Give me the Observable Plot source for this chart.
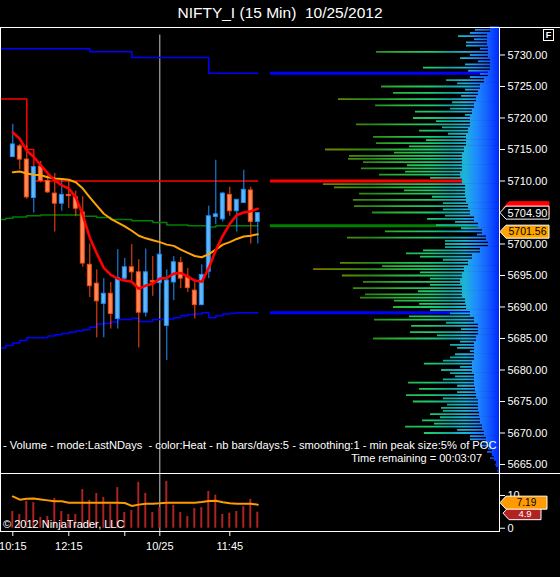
<!DOCTYPE html>
<html><head><meta charset="utf-8">
<script src="https://cdn.jsdelivr.net/npm/d3@7"></script>
<script src="https://cdn.jsdelivr.net/npm/@observablehq/plot@0.6"></script>
<style>
html,body{margin:0;padding:0;background:#000;}
#root{position:relative;width:560px;height:577px;background:#000;overflow:hidden;font-family:"Liberation Sans",Arial,sans-serif;color:#fff;}
.abs{position:absolute;white-space:nowrap;}
.hl{position:absolute;height:1px;background:#fff;}
.vl{position:absolute;width:1px;background:#fff;}
</style></head><body><div id="root"></div>
<script>
// ---------- data ----------
const xTickIdx = [0, 8, 16, 21, 31];
const xTickLabels = ["10:15", "12:15", "", "10/25", "11:45"];
const priceTicks = [5665, 5670, 5675, 5680, 5685, 5690, 5695, 5700, 5705, 5710, 5715, 5720, 5725, 5730];
const volTicks = [0, 10];
const sessionStart = 21;

const open  = [5713.8,5715.5,5713.4,5707.3,5712.3,5710.0,5708.0,5706.4,5707.8,5707.4,5705.0,5696.7,5693.7,5690.5,5692.1,5688.1,5694.5,5696.3,5695.5,5689.1,5694.1,5693.8,5687.0,5693.9,5697.0,5694.8,5692.6,5690.3,5695.6,5704.3,5703.9,5707.8,5705.2,5706.5,5708.5,5703.5];
const high  = [5719.0,5715.8,5715.6,5712.3,5713.1,5710.9,5711.2,5710.1,5709.9,5708.4,5707.5,5700.0,5695.9,5694.5,5693.9,5699.1,5697.7,5699.9,5697.5,5699.2,5698.0,5699.0,5695.9,5698.0,5697.9,5696.1,5694.0,5696.7,5706.0,5713.3,5708.2,5709.0,5707.1,5711.7,5709.0,5705.0];
const low   = [5713.7,5711.8,5707.1,5704.9,5709.7,5708.0,5701.9,5705.2,5705.6,5704.3,5696.3,5691.5,5685.1,5685.1,5686.5,5686.5,5693.9,5694.1,5683.5,5688.4,5691.7,5691.0,5681.5,5691.0,5692.9,5692.3,5688.1,5690.2,5694.5,5703.1,5703.5,5704.4,5701.9,5706.5,5700.0,5700.0];
const close = [5715.8,5713.4,5707.4,5712.2,5710.0,5708.2,5706.4,5707.8,5707.6,5705.6,5696.9,5693.3,5690.9,5692.1,5688.9,5694.6,5696.3,5695.5,5689.1,5695.5,5693.9,5698.3,5694.2,5697.1,5694.5,5693.0,5690.3,5695.1,5704.4,5704.7,5708.0,5705.2,5707.0,5708.6,5703.5,5704.9];

const fastMA = [5717.7,5716.7,5714.8,5713.8,5712.5,5711.2,5710.1,5709.3,5708.8,5707.4,5704.6,5701.0,5698.5,5696.2,5695.1,5694.5,5694.2,5694.0,5692.9,5693.4,5693.7,5694.5,5694.6,5695.3,5695.4,5694.8,5694.2,5694.0,5696.2,5699.0,5701.3,5703.2,5704.6,5705.0,5705.2,5705.6];
const slowMA = [5711.4,5711.5,5711.2,5711.0,5710.9,5710.6,5710.4,5710.3,5710.2,5709.8,5708.8,5707.4,5706.1,5704.8,5704.0,5703.4,5702.8,5702.1,5701.3,5700.9,5700.6,5700.3,5699.9,5699.7,5699.1,5698.6,5698.1,5697.9,5698.4,5699.1,5699.9,5700.3,5700.8,5701.2,5701.3,5701.56];

const volume = [5.1,4.2,8.2,7.8,3.3,3.6,9.1,5.1,4.2,4.2,11.8,8.5,10.6,9.4,7.2,12.4,4.8,5.4,14.0,10.6,4.8,6.3,14.3,7.0,4.8,3.6,6.0,6.3,11.2,10.1,4.2,4.6,5.1,6.6,8.8,4.9];
const volMA  = [9.7,8.7,9.0,9.1,8.8,8.5,8.2,8.2,7.8,7.8,7.8,7.8,7.8,7.8,7.8,7.8,7.7,6.8,7.2,7.5,7.5,7.6,7.8,7.8,7.8,7.8,7.8,8.0,8.3,8.4,7.9,7.6,7.5,7.5,7.5,7.19];

const redLevelIdx = [-2, 2, 3, 35];
const redLevel    = [5723.0, 5715.0, 5710.0, 5710.0];
const blueHighIdx = [-2, 11, 17, 28, 35];
const blueHigh    = [5731.0, 5730.5, 5729.6, 5727.1, 5727.1];
const stepIdx = [-2,-1,0,1,2,3,4,5,6,7,8,9,10,11,12,13,14,15,16,17,18,19,20,21,22,23,24,25,26,27,28,29,30,31,32,33,34,35];
const greenLevel = [5703.9,5704.1,5704.3,5704.3,5704.5,5704.5,5704.6,5704.6,5704.6,5704.6,5704.6,5704.6,5704.4,5704.4,5704.2,5704.2,5703.9,5703.9,5703.9,5703.7,5703.7,5703.7,5703.4,5703.4,5703.0,5703.0,5703.0,5702.9,5702.9,5702.9,5702.7,5702.9,5702.9,5702.9,5702.9,5702.9,5702.9,5702.9];
const blueLow = [5683.5,5683.9,5684.3,5684.7,5685.1,5685.1,5685.1,5685.4,5685.6,5685.8,5686.0,5686.2,5686.4,5686.8,5687.3,5687.4,5687.6,5688.0,5688.0,5688.2,5687.7,5687.7,5688.0,5688.0,5688.1,5688.3,5688.6,5688.8,5688.9,5689.1,5688.3,5688.6,5688.9,5689.0,5689.1,5689.1,5689.1,5689.1];

// volume profile (% of POC row length), integer price rows 5734..5664
const profileIntPrices = d3.range(5734, 5663, -1);
const profileInt = [10.5,17.9,14.4,8.3,12.7,9.2,33.2,8.3,23.1,51.5,
 46.3,70.3,54.1,36.7,37.6,62.4,34.9,55.0,53.7,76.0,
 65.5,59.4,60.3,52.4,14.0,72.1,61.1,63.8,63.3,55.5,
 31.4,27.5,49.8,66.4,23.6,33.2,34.5,69.4,81.2,68.6,
 59.4,63.8,58.5,45.9,46.3,21.4,54.6,38.4,38.9,55.0,
 21.4,12.7,21.4,32.8,25.3,19.2,39.7,34.9,40.6,37.6,
 25.3,30.1,33.6,41.0,32.8,12.7,8.3,5.2,3.9,1.7,0.9];
// half-point rows 5733.5..5664.5
const profileHalfPrices = d3.range(5733.5, 5664, -1);
const profileHalf = [12.7,10.9,14.4,53.7,17.0,14.8,13.5,12.7,18.3,14.8,
 16.6,20.5,21.4,14.8,27.5,24.9,22.3,31.9,39.3,45.9,
 65.9,40.2,41.0,30.1,76.9,41.5,29.3,24.5,24.5,23.6,
 19.2,16.6,9.6,23.6,23.6,40.6,24.5,51.1,34.5,30.1,
 30.1,35.4,60.7,34.9,30.1,39.3,23.1,16.6,27.1,17.0,
 18.3,19.2,24.5,17.0,21.4,24.5,18.3,18.3,24.5,22.7,
 24.5,25.8,28.4,18.3,12.7,7.0,4.8,3.1,0.9,0];
// dense core of the profile, per integer row
const profileCore = [3.9,5.2,5.2,4.8,4.8,3.9,3.9,4.8,6.6,8.3,
 9.2,10.0,10.9,11.8,12.7,12.7,13.5,14.4,14.4,15.3,
 16.2,16.2,16.2,17.0,16.2,14.8,14.8,14.4,13.5,12.7,
 10.9,9.2,7.4,5.7,4.8,8.3,11.8,13.5,15.3,16.2,
 17.0,16.2,16.2,14.8,14.4,12.7,10.9,9.2,9.2,10.0,
 10.9,10.9,10.9,11.8,11.8,10.9,10.9,10.5,10.0,9.2,
 9.2,8.7,8.3,7.4,6.6,5.7,4.4,3.1,2.2,1.3,0.4];

// ---------- styling ----------
const FONT = '"Liberation Sans", Arial, sans-serif';
const UP_EDGE = "#1e90ff", UP_FILL = "#62b6f2", DN_EDGE = "#ff4a12", DN_FILL = "#ff8a55";
const X_DOMAIN = [-1.757, 69.529];
const Y_DOMAIN = [5663.571, 5734.365];
const last = open.length - 1;
const extStart = last + 1.8;

const candles = open.map((o, i) => ({i, o, h: high[i], l: low[i], c: close[i], up: close[i] >= o}));
const fastPts = fastMA.map((v, i) => ({i, v}));
const slowPts = slowMA.map((v, i) => ({i, v}));
const redPts = redLevelIdx.map((i, k) => ({i, v: redLevel[k]}));
const blueHighPts = blueHighIdx.map((i, k) => ({i, v: blueHigh[k]}));
const greenPts = stepIdx.map((i, k) => ({i, v: greenLevel[k]}));
const blueLowPts = stepIdx.map((i, k) => ({i, v: blueLow[k]}));
const levels = [
  {v: blueHigh[blueHigh.length - 1], c: "#0000ff"},
  {v: redLevel[redLevel.length - 1], c: "#ff0000"},
  {v: greenLevel[greenLevel.length - 1], c: "#008000"},
  {v: blueLow[blueLow.length - 1], c: "#0000ff"}
];

const root = document.getElementById("root");
function place(el, left, top) { el.style.position = "absolute"; el.style.left = left + "px"; el.style.top = top + "px"; root.appendChild(el); return el; }
function div(cls, css, html) { const d = document.createElement("div"); d.className = cls; d.style.cssText = css; if (html != null) d.innerHTML = html; root.appendChild(d); return d; }

// title
div("abs", `left:0;top:4px;width:560px;text-align:center;font-size:15.5px;line-height:18px;font-family:${FONT};`, "NIFTY_I (15 Min)&nbsp; 10/25/2012");

// ---------- main price panel ----------
const main = Plot.plot({
  width: 560, height: 446, marginTop: 0, marginBottom: 0, marginLeft: 0, marginRight: 61,
  x: {domain: X_DOMAIN, axis: null},
  y: {domain: Y_DOMAIN},
  style: {background: "#000", color: "#fff", fontFamily: FONT, fontSize: "11px", overflow: "visible"},
  marks: [
    Plot.ruleX([sessionStart], {stroke: "#c8c8c8", strokeWidth: 1, y1: () => Y_DOMAIN[1] - 1.2, y2: () => Y_DOMAIN[0]}),
    Plot.line(redPts, {x: "i", y: "v", curve: "step-after", stroke: "#ff0000", strokeWidth: 1.5}),
    Plot.line(blueHighPts, {x: "i", y: "v", curve: "step-after", stroke: "#0000ff", strokeWidth: 1.5}),
    Plot.line(greenPts, {x: "i", y: "v", curve: "step-after", stroke: "#008000", strokeWidth: 1.5}),
    Plot.line(blueLowPts, {x: "i", y: "v", curve: "step-after", stroke: "#0000ff", strokeWidth: 1.5}),
    Plot.ruleY(levels, {y: "v", x1: () => extStart, x2: () => X_DOMAIN[1], stroke: d => d.c, strokeWidth: 3}),
    Plot.ruleX(candles, {x: "i", y1: "l", y2: "h", stroke: d => d.up ? UP_EDGE : DN_EDGE, strokeWidth: 1}),
    Plot.rect(candles, {x1: d => d.i - 0.28, x2: d => d.i + 0.28, y1: "o", y2: "c",
      fill: d => d.up ? UP_FILL : DN_FILL, stroke: d => d.up ? UP_EDGE : DN_EDGE, strokeWidth: 1}),
    Plot.line(slowPts, {x: "i", y: "v", stroke: "#ffa500", strokeWidth: 2}),
    Plot.line(fastPts, {x: "i", y: "v", stroke: "#ff0000", strokeWidth: 2.6}),
    Plot.axisY(priceTicks, {anchor: "right", tickSize: 5, tickPadding: 3, tickFormat: d => d.toFixed(2), label: null, color: "#fff", fontSize: 11})
  ]
});
place(main, 0, 27);

// ---------- volume profile overlay ----------
const coreRows = profileIntPrices.map((p, k) => ({p, v: profileCore[k]}));
const intRows = profileIntPrices.map((p, k) => ({p, v: profileInt[k]}));
const halfRows = profileHalfPrices.map((p, k) => ({p, v: profileHalf[k]}));
const prof = Plot.plot({
  width: 560, height: 446, marginTop: 0, marginBottom: 0, marginLeft: 270, marginRight: 61,
  x: {domain: [100, 0], axis: null},
  y: {domain: Y_DOMAIN, axis: null},
  style: {background: "transparent", overflow: "visible"},
  marks: [
    Plot.rectX(coreRows, {y1: d => d.p - 0.5, y2: d => d.p + 0.5, x: "v", fill: "url(#heat)"}),
    Plot.ruleY(halfRows, {y: "p", x1: () => 0, x2: "v", stroke: "url(#heat)", strokeWidth: 1.8}),
    Plot.ruleY(intRows, {y: "p", x1: () => 0, x2: "v", stroke: "url(#heat)", strokeWidth: 1.8})
  ]
});
{
  const sx = prof.scale("x");
  const grad = d3.select(prof).insert("defs", ":first-child").append("linearGradient")
    .attr("id", "heat").attr("gradientUnits", "userSpaceOnUse")
    .attr("x1", sx.apply(100)).attr("x2", sx.apply(0)).attr("y1", 0).attr("y2", 0);
  [[0, "#a04800"], [0.175, "#8a6a00"], [0.306, "#5f8a00"], [0.437, "#2a8a18"], [0.568, "#2ab83a"],
   [0.699, "#1ccc70"], [0.786, "#12a8a0"], [0.85, "#1eb4d8"], [0.9, "#1e8cff"], [0.95, "#1460ff"], [1, "#0028ff"]]
    .forEach(([o, c]) => grad.append("stop").attr("offset", o).attr("stop-color", c));
}
place(prof, 0, 27);

// price tags on the right axis
function tag(svg, x0, y, w, fill, stroke, textColor, label, fs) {
  const g = d3.select(svg).append("g");
  g.append("path").attr("d", `M${x0},${y} L${x0 + 6},${y - 6.5} H${x0 + w} V${y + 6.5} H${x0 + 6} Z`)
    .attr("fill", fill).attr("stroke", stroke).attr("stroke-width", 1);
  if (label) g.append("text").attr("x", x0 + 6 + (w - 6) / 2).attr("y", y).attr("dy", "0.36em")
    .attr("text-anchor", "middle").attr("fill", textColor).attr("font-size", fs || 11).attr("font-family", FONT).text(label);
}
{
  const sy = main.scale("y"), x0 = main.scale("x").range[1] + 1;
  tag(main, x0 + 3, sy.apply(fastMA[last]), 46, "#ff0000", "#ff0000", "#fff", null);
  tag(main, x0, sy.apply(close[last]), 49, "#000", "#fff", "#fff", close[last].toFixed(2));
  tag(main, x0, sy.apply(slowMA[last]) - 2, 49, "#ffa500", "#fff", "#000", slowMA[last].toFixed(2), 10.5);
}

// ---------- volume panel ----------
const volData = volume.map((v, i) => ({i, v, ma: volMA[i]}));
const vol = Plot.plot({
  width: 560, height: 88, marginTop: 0, marginBottom: 30, marginLeft: 0, marginRight: 61,
  x: {domain: X_DOMAIN},
  y: {domain: [-1.0, 16.7]},
  style: {background: "transparent", color: "#fff", fontFamily: FONT, fontSize: "11px", overflow: "visible"},
  marks: [
    Plot.ruleX([sessionStart], {stroke: "#c8c8c8", strokeWidth: 1}),
    Plot.rect(volData, {x1: d => d.i - 0.14, x2: d => d.i + 0.14, y1: () => 0, y2: "v", fill: "#b22222"}),
    Plot.line(volData, {x: "i", y: "ma", stroke: "#ff9a00", strokeWidth: 2}),
    Plot.axisY(volTicks, {anchor: "right", tickSize: 5, tickPadding: 3, label: null, color: "#fff", fontSize: 11}),
    Plot.axisX(xTickIdx, {anchor: "bottom", tickSize: 5, tickPadding: 6, label: null, color: "#fff", fontSize: 11,
      tickFormat: d => xTickLabels[xTickIdx.indexOf(d)]})
  ]
});
place(vol, 0, 473);
{
  const sy = vol.scale("y"), x0 = vol.scale("x").range[1] + 1;
  tag(vol, x0 + 3, sy.apply(volume[last]) + 1.5, 38, "#b22222", "#fff", "#fff", volume[last].toFixed(1), 9.5);
  tag(vol, x0, sy.apply(volMA[last]) - 1.5, 47, "#ff9a00", "#fff", "#000", volMA[last].toFixed(2), 10);
}

// ---------- frame lines & texts ----------
div("hl", "left:0;top:27px;width:560px;");
div("hl", "left:0;top:473px;width:560px;");
div("hl", "left:0;top:531px;width:500px;");
div("vl", "left:499px;top:27px;height:505px;");
div("vl", "left:0;top:27px;height:505px;");
div("abs", `left:543px;top:29px;width:9px;height:10px;border:1px solid #fff;font:bold 9px ${FONT};line-height:10px;text-align:center;`, "F");
div("abs", `left:3px;top:438px;font-size:11.15px;line-height:14px;font-family:${FONT};`,
  "- Volume - mode:LastNDays&nbsp; - color:Heat - nb bars/days:5 - smoothing:1 - min peak size:5% of POC");
div("abs", `right:78px;top:451px;font-size:11px;line-height:14px;font-family:${FONT};`, "Time remaining = 00:03:07");
div("abs", `left:3px;top:517px;font-size:11px;line-height:14px;font-family:${FONT};`, "© 2012 NinjaTrader, LLC");
</script></body></html>
